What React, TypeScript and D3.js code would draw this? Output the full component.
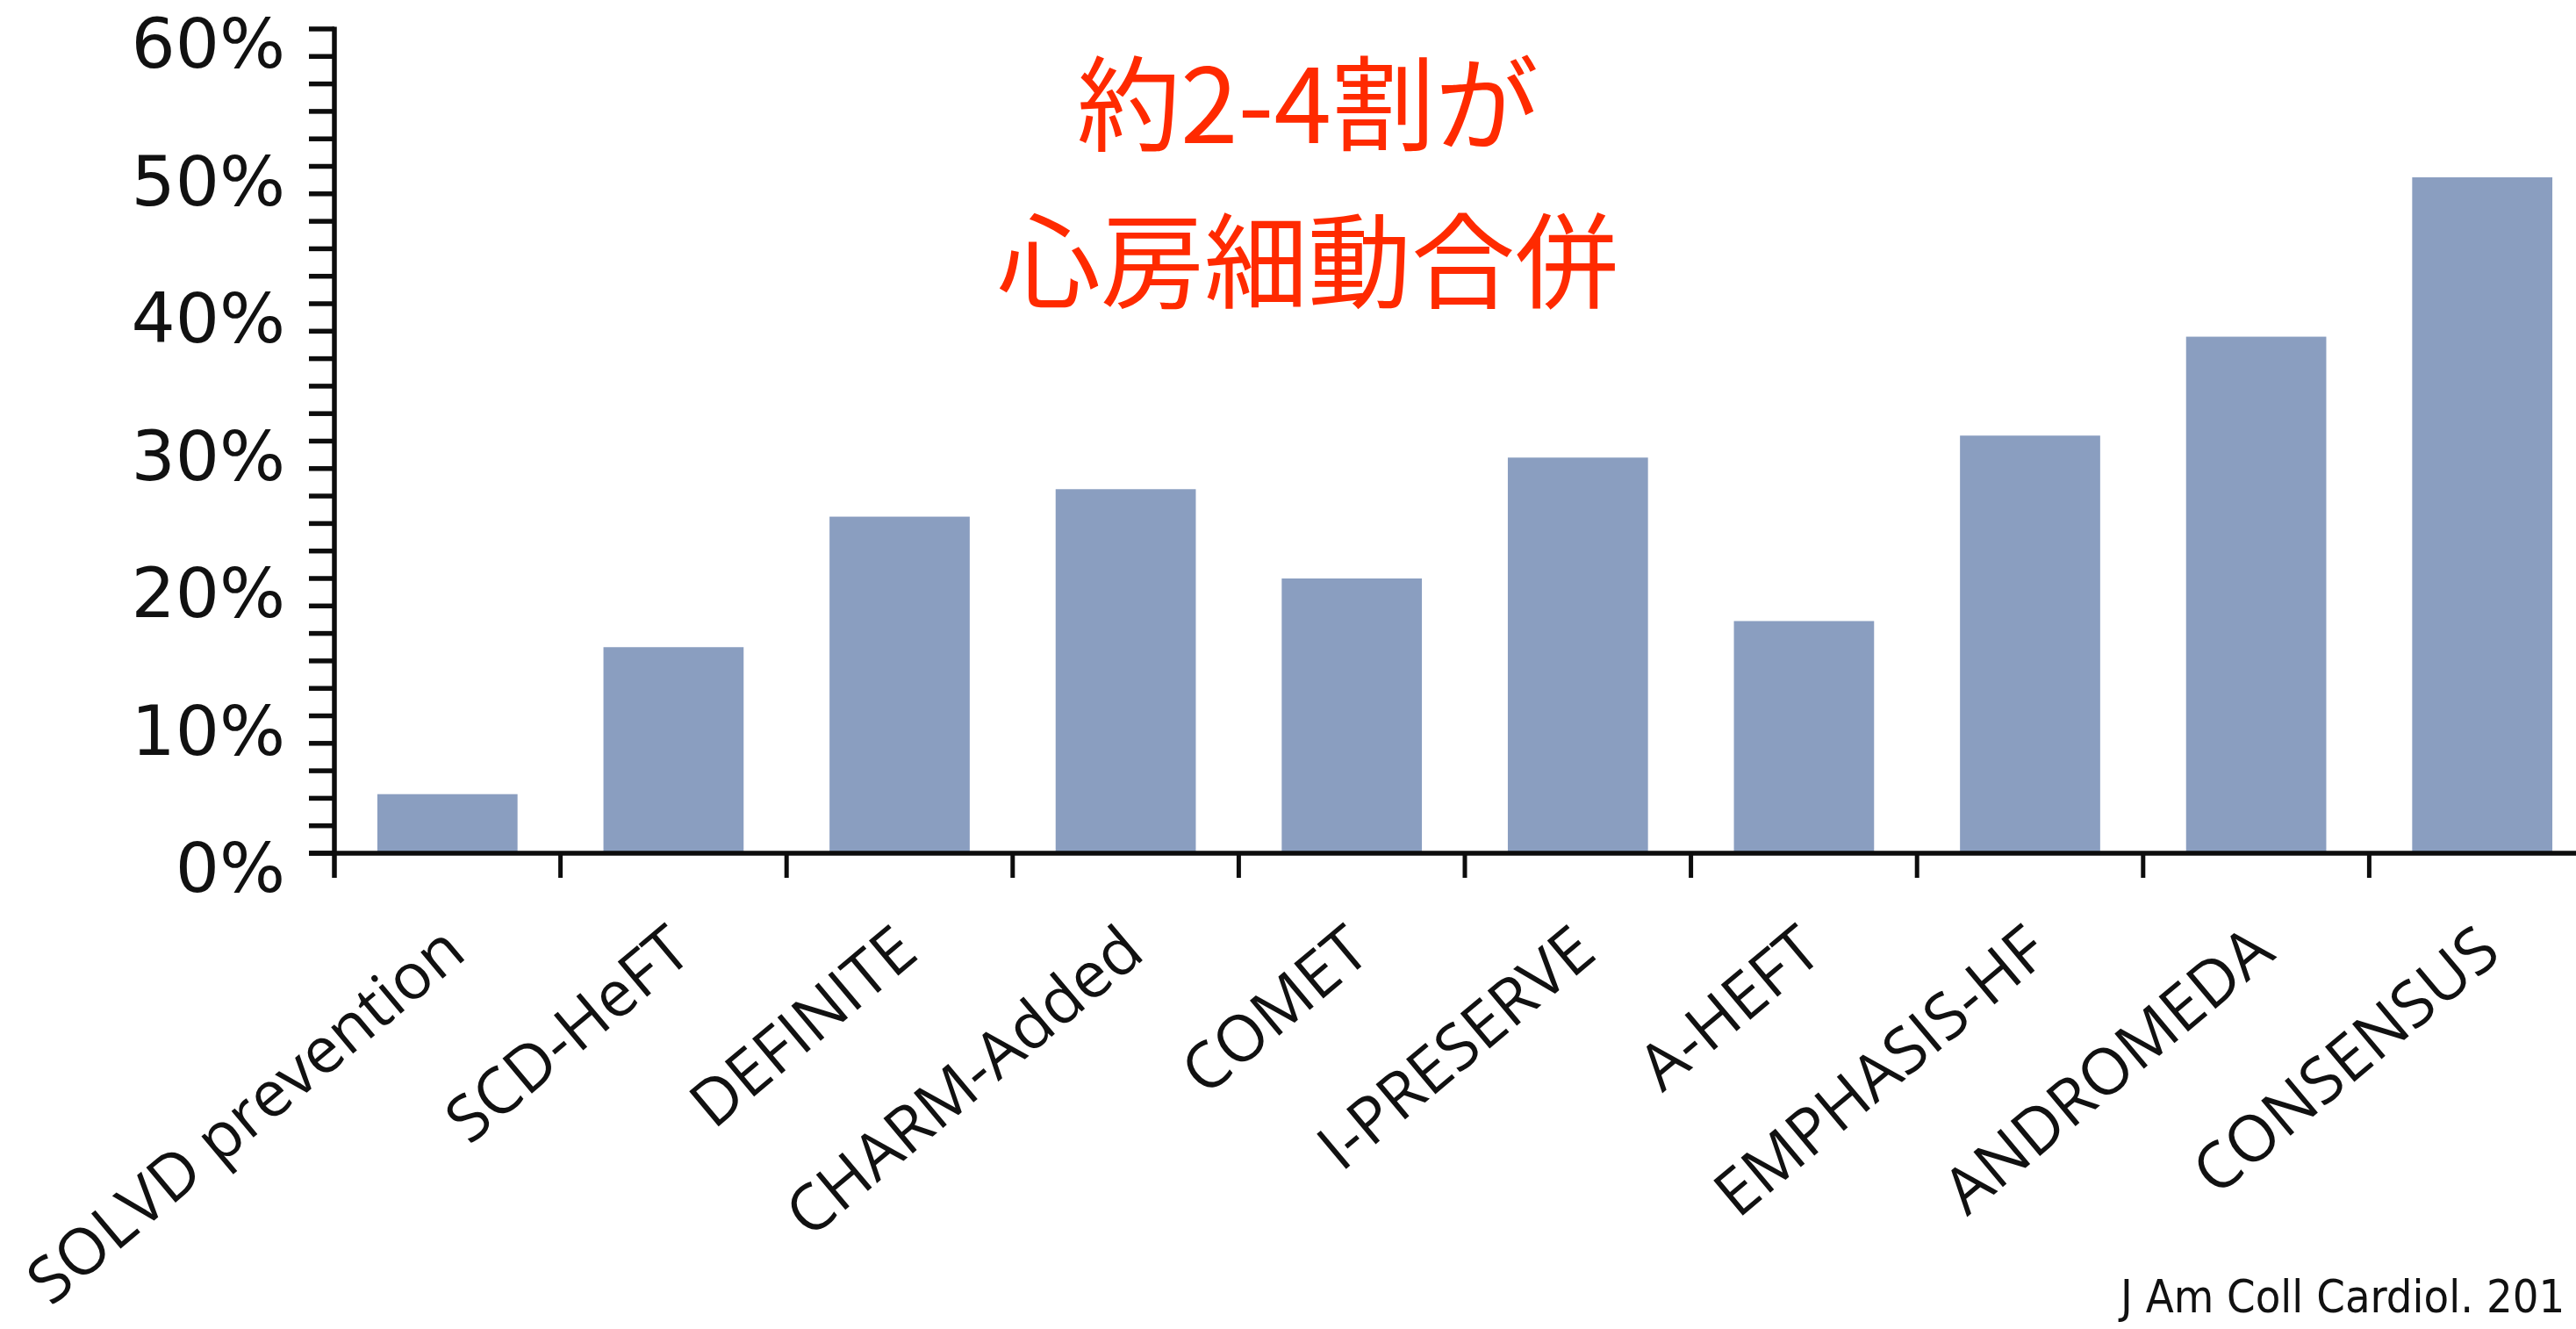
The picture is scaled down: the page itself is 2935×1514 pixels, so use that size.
import React, { useEffect } from "react";
import * as d3 from "d3";

// Trials and the share of patients with atrial fibrillation (%)
const categories = [
  "SOLVD prevention",
  "SCD-HeFT",
  "DEFINITE",
  "CHARM-Added",
  "COMET",
  "I-PRESERVE",
  "A-HEFT",
  "EMPHASIS-HF",
  "ANDROMEDA",
  "CONSENSUS",
];
const afPrevalence = [4.3, 15.0, 24.5, 26.5, 20.0, 28.8, 16.9, 30.4, 37.6, 49.2];

const yMajorTicks = [0, 10, 20, 30, 40, 50, 60];
const yMinorStep = 2;
const titleLines = ["約2-4割が", "心房細動合併"];
const citation = "J Am Coll Cardiol. 201";

const W = 2935;
const H = 1514;

const BAR_COLOR = "#8a9ec0";
const AXIS_COLOR = "#0d0d0d";
const TITLE_COLOR = "#ff2a00";

export default function App() {
  useEffect(() => {
    document.body.style.margin = "0";
    document.body.style.overflow = "hidden";
  }, []);

  const axisX = 381;
  const step = 257.6;
  const x = d3
    .scaleBand<string>()
    .domain(categories)
    .range([axisX, axisX + step * categories.length])
    .paddingInner(0.38)
    .paddingOuter(0.19);
  const y = d3.scaleLinear().domain([0, 60]).range([972, 33]);

  const bw = x.bandwidth();
  const gap = (x.step() - bw) / 2;
  const y0 = y(0);
  const minorTicks = d3.range(0, 60 + yMinorStep / 2, yMinorStep);
  const bandEdges = categories.map((c) => (x(c) as number) + bw + gap);

  return (
    <svg width={W} height={H} style={{ display: "block", background: "#fff" }}>
      {/* bars */}
      {categories.map((c, i) => (
        <rect
          key={c}
          x={x(c)}
          y={y(afPrevalence[i])}
          width={bw}
          height={y0 - y(afPrevalence[i])}
          fill={BAR_COLOR}
        />
      ))}

      {/* y axis */}
      <line x1={axisX} x2={axisX} y1={y(60) - 2.5} y2={y0 + 28} stroke={AXIS_COLOR} strokeWidth={5.5} />
      {minorTicks.map((t) => (
        <line key={t} x1={axisX - 29} x2={axisX} y1={y(t)} y2={y(t)} stroke={AXIS_COLOR} strokeWidth={5.5} />
      ))}
      {yMajorTicks.map((t) => (
        <text
          key={t}
          x={325}
          y={y(t) + 44}
          textAnchor="end"
          fontFamily="'DejaVu Sans', Verdana, sans-serif"
          fontSize={79}
          fill="#111"
        >
          {`${t}%`}
        </text>
      ))}

      {/* x axis */}
      <line x1={axisX - 29} x2={axisX + step * categories.length} y1={y0} y2={y0} stroke={AXIS_COLOR} strokeWidth={5.5} />
      {bandEdges.map((ex, i) => (
        <line key={i} x1={ex} x2={ex} y1={y0} y2={y0 + 28} stroke={AXIS_COLOR} strokeWidth={5} />
      ))}
      {categories.map((c) => {
        const cx = (x(c) as number) + bw / 2 + 24;
        return (
          <text
            key={c}
            transform={`translate(${cx},1090) rotate(-40)`}
            textAnchor="end"
            fontFamily="'Open Sans', 'Noto Sans', sans-serif"
            fontSize={73}
            fill="#111"
          >
            {c}
          </text>
        );
      })}

      {/* headline */}
      {titleLines.map((line, i) => (
        <text
          key={line}
          x={1490}
          y={163 + i * 179}
          textAnchor="middle"
          fontFamily="'Noto Sans CJK JP', sans-serif"
          fontSize={118}
          fill={TITLE_COLOR}
        >
          {line}
        </text>
      ))}

      {/* source */}
      <text
        x={2416}
        y={1495}
        fontFamily="'DejaVu Sans Condensed', 'DejaVu Sans', sans-serif"
        fontSize={52}
        fill="#111"
      >
        {citation}
      </text>
    </svg>
  );
}
